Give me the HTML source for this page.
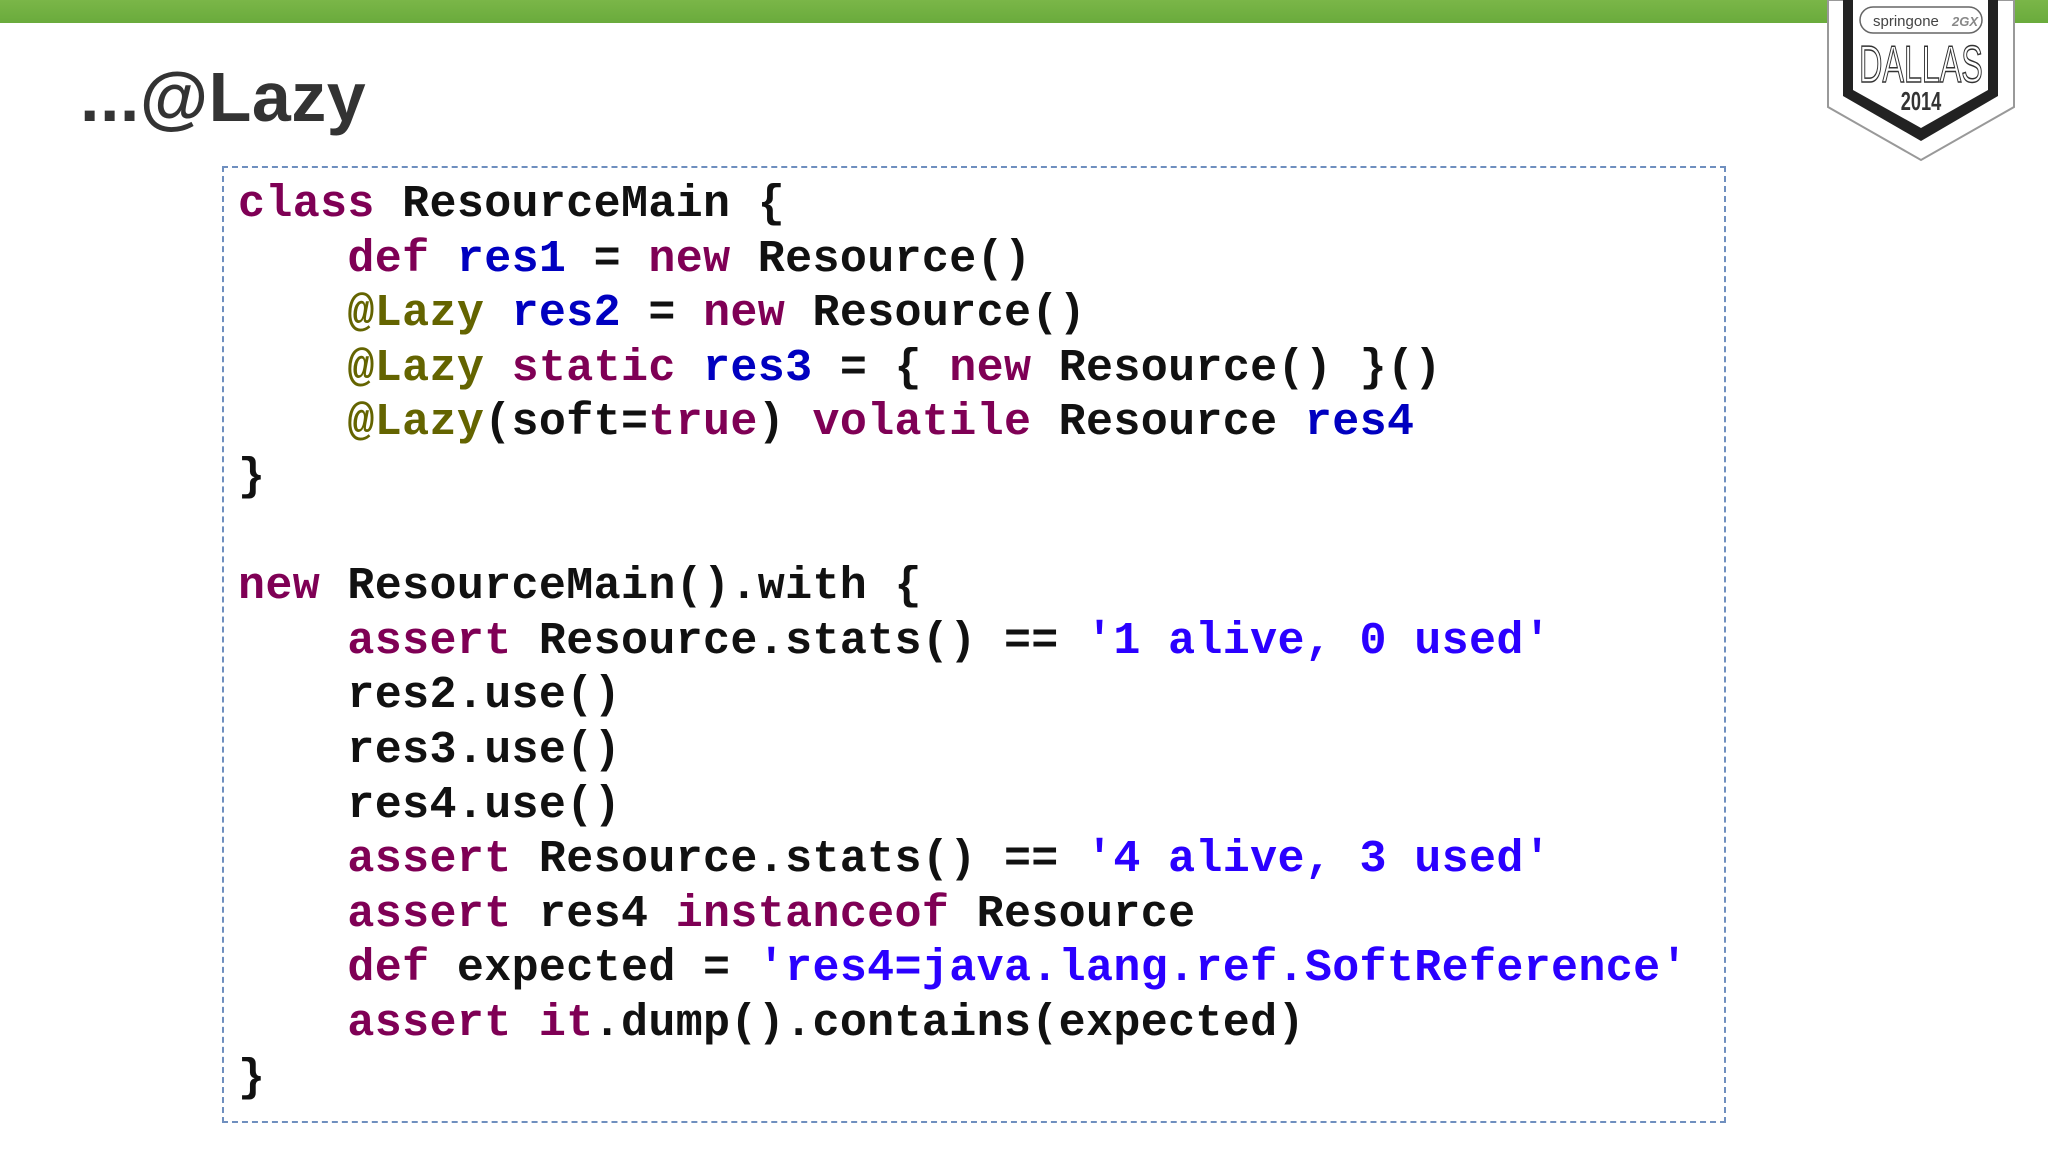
<!DOCTYPE html>
<html><head><meta charset="utf-8"><style>
html,body{margin:0;padding:0;}
body{width:2048px;height:1152px;background:#fff;position:relative;overflow:hidden;font-family:"Liberation Sans",sans-serif;}
.bar{position:absolute;left:0;top:0;width:2048px;height:23px;background:linear-gradient(#7ab648,#6aab3c);}
.title{position:absolute;left:80px;top:52px;font-size:70px;font-weight:bold;color:#333;letter-spacing:0.5px;line-height:90px;}
.box{position:absolute;left:222px;top:166px;width:1500px;height:953px;border:2px dashed #6f8fbf;}
pre{position:absolute;left:238px;top:178px;margin:0;font-family:"Liberation Mono",monospace;font-weight:bold;font-size:45px;letter-spacing:0.35px;line-height:54.6px;color:#111;}
.k{color:#7f0055}.i{color:#0000c0}.a{color:#646400}.s{color:#2a00ff}
</style></head><body>
<div class="bar"></div>
<div class="title">...@Lazy</div>
<svg style="position:absolute;left:0;top:0" width="2048" height="180">
<polygon points="1828,0 2014,0 2014,107 1921,160 1828,107" fill="#fff" stroke="#999" stroke-width="2"/>
<polygon points="1843,0 1998,0 1998,96 1921,141 1843,96" fill="#222"/>
<polygon points="1853,0 1988,0 1988,90 1921,128 1853,90" fill="#fff"/>
<rect x="1860" y="7" width="122" height="26" rx="13" fill="#fff" stroke="#666" stroke-width="1.5"/>
<text x="1873" y="26" font-family="Liberation Sans" font-size="15" fill="#444">springone</text>
<text x="1952" y="26" font-family="Liberation Sans" font-size="13" font-style="italic" font-weight="bold" fill="#888">2GX</text>
<text x="1921" y="82" text-anchor="middle" font-family="Liberation Sans" font-size="52" fill="#fff" stroke="#333" stroke-width="1.5" transform="translate(1921,0) scale(0.62,1) translate(-1921,0)">DALLAS</text>
<text x="1921" y="110" text-anchor="middle" font-family="Liberation Sans" font-weight="bold" font-size="26" fill="#333" transform="translate(1921,0) scale(0.7,1) translate(-1921,0)">2014</text>
</svg>
<div class="box"></div>
<pre><span class="k">class</span> ResourceMain {
    <span class="k">def</span> <span class="i">res1</span> = <span class="k">new</span> Resource()
    <span class="a">@Lazy</span> <span class="i">res2</span> = <span class="k">new</span> Resource()
    <span class="a">@Lazy</span> <span class="k">static</span> <span class="i">res3</span> = { <span class="k">new</span> Resource() }()
    <span class="a">@Lazy</span>(soft=<span class="k">true</span>) <span class="k">volatile</span> Resource <span class="i">res4</span>
}

<span class="k">new</span> ResourceMain().with {
    <span class="k">assert</span> Resource.stats() == <span class="s">'1 alive, 0 used'</span>
    res2.use()
    res3.use()
    res4.use()
    <span class="k">assert</span> Resource.stats() == <span class="s">'4 alive, 3 used'</span>
    <span class="k">assert</span> res4 <span class="k">instanceof</span> Resource
    <span class="k">def</span> expected = <span class="s">'res4=java.lang.ref.SoftReference'</span>
    <span class="k">assert</span> <span class="k">it</span>.dump().contains(expected)
}</pre>
</body></html>
